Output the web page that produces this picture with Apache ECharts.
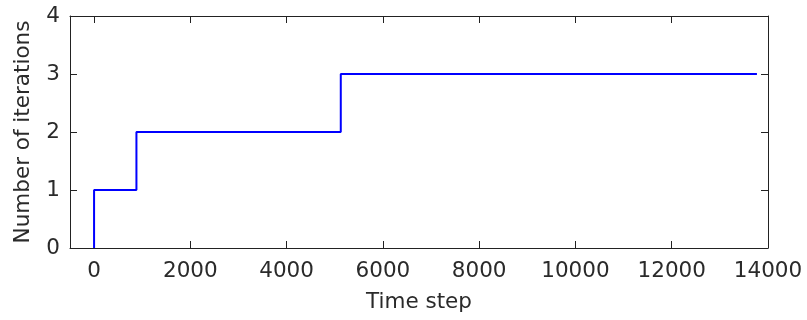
<!DOCTYPE html>
<html>
<head>
<meta charset="utf-8">
<script src="https://cdn.jsdelivr.net/npm/echarts@6/dist/echarts.min.js"></script>
<style>html,body{margin:0;padding:0;background:#fff;}#c{width:807px;height:320px;}</style>
</head>
<body>
<div id="c"></div>
<script>
var timeSteps = [0, 0, 880, 880, 5125, 5125, 13770];
var iterations = [0, 1, 1, 2, 2, 3, 3];
var xTicks = [0, 2000, 4000, 6000, 8000, 10000, 12000, 14000];
var yTicks = [0, 1, 2, 3, 4];

var data = timeSteps.map(function (t, i) { return [t, iterations[i]]; });
var font = 'DejaVu Sans';
var txt = '#2a2a2a';
var lineC = '#222';
var chart = echarts.init(document.getElementById('c'));
chart.setOption({
  animation: false,
  grid: { left: 70, right: 39, top: 16, bottom: 72, containLabel: false },
  xAxis: [{
    type: 'value', min: -500, max: 14000,
    name: 'Time step', nameLocation: 'middle', nameGap: 43,
    nameTextStyle: { fontFamily: font, fontSize: 21.5, color: txt },
    axisLine: { show: true, onZero: false, lineStyle: { color: lineC, width: 1 } },
    axisTick: { show: true, inside: true, length: 7, customValues: xTicks, lineStyle: { color: lineC } },
    axisLabel: { customValues: xTicks, fontFamily: font, fontSize: 21.5, color: txt, margin: 12,
      formatter: function (v) { return String(v); } },
    splitLine: { show: false }
  }, {
    type: 'value', min: -500, max: 14000, position: 'top',
    axisLine: { show: true, onZero: false, lineStyle: { color: lineC, width: 1 } },
    axisTick: { show: true, inside: true, length: 7, customValues: xTicks, lineStyle: { color: lineC } },
    axisLabel: { show: false },
    splitLine: { show: false }
  }],
  yAxis: [{
    type: 'value', min: 0, max: 4, interval: 1,
    name: 'Number of iterations', nameLocation: 'middle', nameGap: 36,
    nameTextStyle: { fontFamily: font, fontSize: 21.5, color: txt },
    axisLine: { show: true, onZero: false, lineStyle: { color: lineC, width: 1 } },
    axisTick: { show: true, inside: true, length: 7, lineStyle: { color: lineC } },
    axisLabel: { customValues: yTicks, fontFamily: font, fontSize: 21.5, color: txt, margin: 10,
      formatter: function (v) { return String(v); } },
    splitLine: { show: false }
  }, {
    type: 'value', min: 0, max: 4, interval: 1, position: 'right',
    axisLine: { show: true, onZero: false, lineStyle: { color: lineC, width: 1 } },
    axisTick: { show: true, inside: true, length: 7, lineStyle: { color: lineC } },
    axisLabel: { show: false },
    splitLine: { show: false }
  }],
  series: [{
    type: 'line', data: data, showSymbol: false, symbol: 'none',
    lineStyle: { color: '#0000ff', width: 2 },
    z: 1
  }]
});
</script>
</body>
</html>
